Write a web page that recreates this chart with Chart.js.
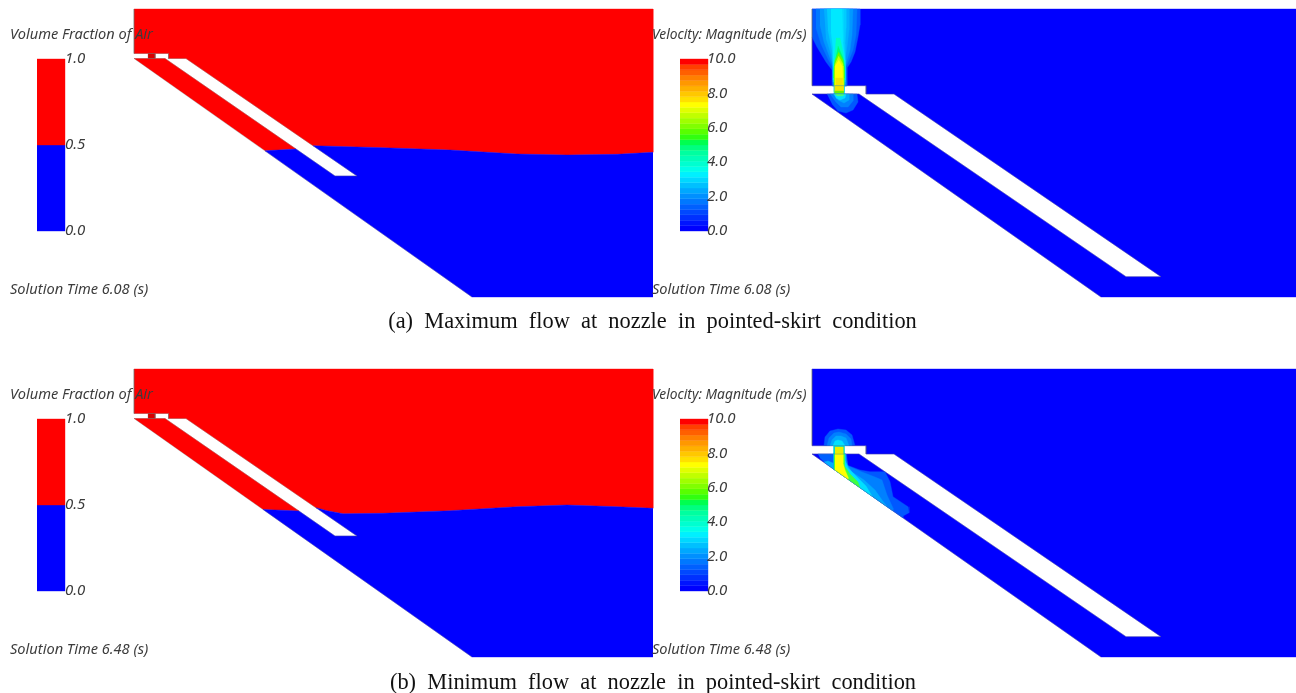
<!DOCTYPE html>
<html>
<head>
<meta charset="utf-8">
<title>Pointed-skirt flow</title>
<script src="https://cdn.jsdelivr.net/npm/chart.js@4"></script>
<style>
  html, body { margin: 0; background: #fff; }
  #wrap { width: 1296px; height: 693px; }
  /* the source figure is a soft, upscaled bitmap */
  #chart { filter: blur(0.45px); }
</style>
</head>
<body>
<div id="wrap"><canvas id="chart" width="1296" height="693"></canvas></div>
<script>
// row (b) is the same drawing 360px lower
const rowOffsets = [0, 360];

// left panel, volume fraction of air
const airOutline = [[134,9],[134,53.5],[168.5,53.5],[168.5,58.5],[186,58.5],[357,176],[335,176],[165,58.5],[134,58.5],[472,297]];
const airNozzle = [[148,53.5],[155,53.5],[155,58.5],[148,58.5]];
// free surface, right wall to skirt
const interfaceUpper = [
  [[653,152.3],[617,154.3],[567,155],[517,154],[450,150],[383,147.7],[313,145.7]],
  [[653,148.3],[617,146.7],[567,145],[517,146.7],[450,150.7],[383,153.3],[343,153.7],[327,150.7],[316,147.7]]
];
// free surface under the skirt, hull side first
const interfaceLower = [
  [[265,150.8],[296,149]],
  [[263,149.4],[299,151]]
];

// right panel, velocity
const velDomain = [[812,9],[1296,9],[1296,297],[1101,297],[812,94],[859,94],[1126,276.7],[1161,276.7],[894,94],[866,94],[866,85.7],[812,85.7]];
const velOutline = [[812,9],[812,85.7],[866,85.7],[866,94],[894,94],[1161,276.7],[1126,276.7],[859,94],[812,94],[1101,297]];

const jetColorsA = ['#0058ff','#0078ff','#0098ff','#00b0ff','#00ccff','#00e8ff','#00ffc0','#00ff70','#60ff00','#c8ff00','#ffff00','#f2e400'];
const jetLevelsA = [
  [[812,9],[860,9],[860,25],[858,37],[855,52],[851,62],[847,68],[847,86],[832,86],[832,70],[826,62],[817,47],[812,37]],
  [[816,9],[857,9],[856,35],[853,50],[849,60],[846,67],[846,86],[833,86],[833,68],[828,59],[821,44],[816,28]],
  [[820,9],[853,9],[852,35],[850,50],[847,60],[845,68],[845,86],[834,86],[834,68],[830,58],[824,42],[820,25]],
  [[824,9],[849,9],[849,30],[847,47],[845,60],[845,84],[834,84],[833,64],[831,54],[826,38]],
  [[827,9],[846,9],[846,28],[845,44],[845,60],[845,82],[833,82],[833,62],[832,50],[828,30]],
  [[831,9],[842,9],[843,25],[843,42],[845,60],[845,80],[833,80],[833,60],[833,48],[831,32]],
  [[836,38],[840,38],[843,52],[844.5,64],[844.5,78],[833.5,78],[834,64],[835,50]],
  [[838,46],[843,58],[844.5,66],[844.5,78],[833.5,78],[834,66]],
  [[838.5,52],[843,60],[844,70],[844,92],[834,92],[834,70],[835,60]],
  [[838.5,56],[843,64],[843.5,90],[835,90],[835,64]],
  [[838.7,60],[842,66],[843,88],[835,88],[835,66]],
  [[835.5,78],[842.5,78],[842.5,88],[835.5,88]]
];
const blobColorsA = ['#0058ff','#0080ff','#00a8ff','#00e0ff','#40ff80'];
const blobLevelsA = [
  [[827,94],[857,94],[858,102],[853,110],[846,113],[838,111],[832,104]],
  [[830,94],[853,94],[853,101],[848,107],[841,107],[835,101]],
  [[833,94],[849,94],[849,100],[844,103],[838,100]],
  [[834,94],[846,94],[845,98],[840,100],[836,98]],
  [[835,94],[844,94],[843,96],[837,96]]
];
const nozzleFringeA = [[833.7,85.7],[844.3,85.7],[844.3,94],[833.7,94]];
const nozzleCoreA = [[834.5,85.7],[843.5,85.7],[843.5,92],[834.5,92]];
const nozzleExitA = [[834.5,91],[843.5,91],[843.5,94],[834.5,94]];

const jetColorsB = ['#0058ff','#0080ff','#00a8ff','#00e0ff'];
const jetLevelsB = [
  [[824,445.7],[825,437],[830,431],[838,429],[846,430],[852,435],[855,445.7]],
  [[827,445.7],[829,438],[834,433],[839,432],[846,434],[851,439],[852,445.7]],
  [[830,445.7],[832,440],[836,436],[841,436],[846,438],[849,445.7]],
  [[833,445.7],[835,441],[838,440],[842,441],[845,445.7]]
];
const washColorsB = ['#0058ff','#0080ff','#00a8ff','#00e0ff','#40ff40','#ffff00'];
const washLevelsB = [
  [[833,454],[846,454],[846.7,465],[860,470],[870,471.7],[885,471.7],[890,481.7],[893,496.7],[908,506.7],[909,512.7],[903,516],[903,517.9],[833,468.7]],
  [[833,454],[846,454],[848,466],[862,472],[875,477],[882,480],[887,495],[893,508],[893,511],[833,468.7]],
  [[833,454],[845,454],[846,463],[852,472],[864,480],[875,490],[882,500],[887,506.6],[833,468.7]],
  [[833,454],[845,454],[845,460],[848,468],[856,476],[866,486],[872,496.1],[833,468.7]],
  [[834,454],[844,454],[844,458],[845,466],[850,474],[858,482],[860,487.7],[833.5,469]],
  [[835,454],[843,454],[843,463],[845,470],[848,477],[848,479.3],[835,470]]
];
const cornerColorsB = ['#0060ff','#00b0ff'];
const cornerLevelsB = [
  [[818,454],[833,454],[833,468.7],[827,464.5],[820,458]],
  [[824,462],[828,461],[833,463],[833,468.7]]
];
const nozzleFringeB = [[833.3,445.7],[844.3,445.7],[844.3,454],[833.3,454]];
const nozzleCoreB = [[835,447],[843,447],[843,454],[835,454]];

// colour bars, lowest band first
const vofBandColors = ['#0000ff', '#ff0000'];
const velBandColors = ['#0000ff','#0014ff','#0030ff','#0048ff','#0060ff','#0078ff','#0090ff','#00a8ff','#00c0ff','#00d8ff','#00f0ff','#00ffe8','#00ffd0','#00ffb8','#00ffa0','#00ff80','#00ff50','#30ff10','#58ff00','#80ff00','#a0ff00','#c0ff00','#e0ff00','#ffff00','#ffe000','#ffc800','#ffb000','#ff9800','#ff8000','#ff6000','#ff4000','#ff0000'];
const vofTicks = ['0.0', '0.5', '1.0'];
const velTicks = ['0.0', '2.0', '4.0', '6.0', '8.0', '10.0'];

const vofTitle = 'Volume Fraction of Air';
const velTitle = 'Velocity: Magnitude (m/s)';
const solutionTimes = ['Solution Time 6.08 (s)', 'Solution Time 6.48 (s)'];
const captions = ['(a)  Maximum  flow  at  nozzle  in  pointed-skirt  condition', '(b)  Minimum  flow  at  nozzle  in  pointed-skirt  condition'];

const barTop = 59, barBottom = 231;

function toPoints(pts, dy) {
  return pts.map(p => ({ x: p[0], y: p[1] + dy }));
}
function poly(pts, color, dy) {
  return {
    data: toPoints(pts, dy || 0), showLine: true, fill: 'shape', backgroundColor: color,
    borderColor: color, borderWidth: 0.4, pointRadius: 0, tension: 0
  };
}
function outline(pts, dy) {
  return {
    data: toPoints(pts, dy), showLine: true, fill: false, borderColor: 'rgba(110,110,110,0.4)',
    borderWidth: 0.8, pointRadius: 0, tension: 0
  };
}
function colourBar(left, right, colors, dy) {
  const h = (barBottom - barTop) / colors.length;
  return colors.map((c, i) => {
    const lo = barBottom - i * h, hi = lo - h;
    return poly([[left, lo], [right, lo], [right, hi], [left, hi]], c, dy);
  });
}
function levels(list, colors, dy) {
  return list.map((pts, i) => poly(pts, colors[i], dy));
}

const datasets = [];
rowOffsets.forEach((dy, row) => {
  const under = interfaceLower[row].slice().reverse();
  // air panel: air above the free surface, water below it
  datasets.push(poly([[134,9],[653,9]].concat(interfaceUpper[row], [[186,58.5],[168.5,58.5],[168.5,53.5],[134,53.5]]), '#ff0000', dy));
  datasets.push(poly([[134,58.5],[165,58.5]].concat(under), '#ff0000', dy));
  datasets.push(poly(interfaceUpper[row].concat([[357,176],[335,176]], under, [[472,297],[653,297]]), '#0000ff', dy));
  datasets.push(poly(airNozzle, '#d80000', dy));
  datasets.push(outline(airNozzle.concat([airNozzle[0]]), dy));
  datasets.push(outline(airOutline, dy));
  datasets.push(...colourBar(37, 65, vofBandColors, dy));
  // velocity panel
  datasets.push(poly(velDomain, '#0000ff', dy));
  datasets.push(...colourBar(680, 708, velBandColors, dy));
});
datasets.push(...levels(jetLevelsA, jetColorsA));
datasets.push(poly(nozzleFringeA, '#00d0ff'));
datasets.push(poly(nozzleCoreA, '#f2e400'));
datasets.push(poly(nozzleExitA, '#70f000'));
datasets.push(...levels(blobLevelsA, blobColorsA));
datasets.push(...levels(jetLevelsB, jetColorsB));
datasets.push(...levels(washLevelsB, washColorsB));
datasets.push(...levels(cornerLevelsB, cornerColorsB));
datasets.push(poly(nozzleFringeB, '#00d8d0'));
datasets.push(poly(nozzleCoreB, '#e8f000'));
rowOffsets.forEach(dy => datasets.push(outline(velOutline, dy)));
// Chart.js paints the first dataset last, so flip the painter's order
datasets.reverse();

// all the texts go on top of the contours
const textPlugin = {
  id: 'panelTexts',
  afterDatasetsDraw(chart) {
    const c = chart.ctx, sx = chart.scales.x, sy = chart.scales.y;
    const put = (text, x, y) => c.fillText(text, sx.getPixelForValue(x), sy.getPixelForValue(y));
    c.save();
    c.textBaseline = 'middle';
    c.textAlign = 'left';
    rowOffsets.forEach((dy, row) => {
      c.fillStyle = '#3c3c3c';
      c.font = 'italic 14.6px "Noto Sans"';
      put(vofTitle, 10, 34.5 + dy);
      put(solutionTimes[row], 10, 290 + dy);
      put(solutionTimes[row], 652, 290 + dy);
      c.font = 'italic 13.8px "Noto Sans"';
      put(velTitle, 652, 35 + dy);
      c.font = 'italic 15px "Noto Sans"';
      vofTicks.forEach((t, i) => put(t, 65, barBottom - i * 86 + dy));
      velTicks.forEach((t, i) => put(t, 707, barBottom - i * 34.4 + dy));
      c.fillStyle = '#111';
      c.font = '22.4px "Liberation Serif"';
      c.textAlign = 'center';
      put(captions[row], row ? 653 : 652.5, row ? 683 : 322);
      c.textAlign = 'left';
    });
    c.restore();
  }
};

new Chart(document.getElementById('chart'), {
  type: 'scatter',
  data: { datasets },
  options: {
    responsive: false,
    animation: false,
    layout: { padding: 0 },
    scales: {
      x: { type: 'linear', min: 0, max: 1296, display: false },
      y: { type: 'linear', min: 0, max: 693, reverse: true, display: false }
    },
    plugins: { legend: { display: false }, tooltip: { enabled: false } }
  },
  plugins: [textPlugin]
});
</script>
</body>
</html>
